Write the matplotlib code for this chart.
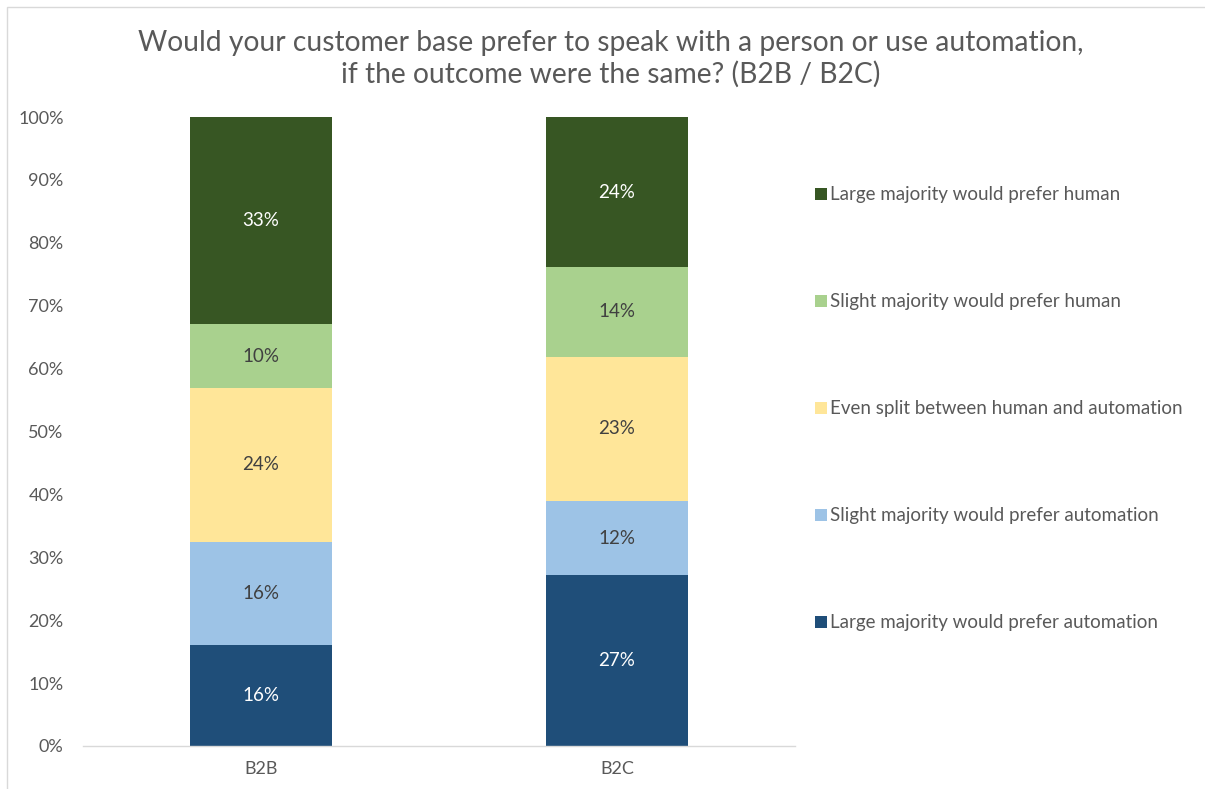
import numpy as np
import matplotlib.pyplot as plt
from matplotlib.patches import Patch, Rectangle

plt.rcParams['font.family'] = ['Lato', 'DejaVu Sans']

categories = ["B2B", "B2C"]
series_names = [
    "Large majority would prefer automation",
    "Slight majority would prefer automation",
    "Even split between human and automation",
    "Slight majority would prefer human",
    "Large majority would prefer human",
]
# share of respondents (%) per category, bottom segment first
b2b = [16.1, 16.4, 24.4, 10.2, 32.9]
b2c = [27.2, 11.7, 23.0, 14.2, 23.9]
colors = ["#1F4E79", "#9DC3E6", "#FFE699", "#A9D18E", "#375623"]
label_colors = ["white", "#404040", "#404040", "#404040", "white"]
ytick_vals = list(range(0, 101, 10))

TEXT = "#595959"

fig = plt.figure(figsize=(12.05, 7.89), dpi=100)
ax = fig.add_axes([83 / 1205, 1 - 746 / 789, (795 - 83) / 1205, (746 - 117) / 789])

data = np.array([b2b, b2c], dtype=float)
shares = data / data.sum(axis=1, keepdims=True) * 100
x = np.arange(len(categories))
bottom = np.zeros(len(categories))
for i, name in enumerate(series_names):
    ax.bar(x, shares[:, i], 0.40, bottom=bottom, color=colors[i], label=name)
    for j in range(len(categories)):
        ax.text(x[j], bottom[j] + shares[j, i] / 2, f"{data[j, i]:.0f}%",
                ha="center", va="center", fontsize=13.5, color=label_colors[i])
    bottom += shares[:, i]

ax.set_xlim(-0.5, 1.5)
ax.set_ylim(0, 100)
ax.set_yticks(ytick_vals)
ax.set_yticklabels([f"{v}%" for v in ytick_vals])
ax.set_xticks(x)
ax.set_xticklabels(categories)
ax.tick_params(axis="both", length=0, labelsize=13, colors=TEXT)
ax.tick_params(axis="y", pad=14)
ax.tick_params(axis="x", pad=11)
for side in ["top", "right", "left"]:
    ax.spines[side].set_visible(False)
ax.spines["bottom"].set_color("#D9D9D9")
ax.spines["bottom"].set_linewidth(1.0)

fig.text(0.5 * (140 + 1082) / 1205, 1 - 59 / 789,
         "Would your customer base prefer to speak with a person or use automation,\n"
         "if the outcome were the same? (B2B / B2C)",
         ha="center", va="center", fontsize=20.3, color=TEXT, linespacing=1.25)

handles = [Patch(facecolor=colors[i], label=series_names[i]) for i in range(5)][::-1]
fig.legend(handles=handles, loc="upper left", bbox_to_anchor=(806 / 1205, 1 - 177 / 789),
           frameon=False, fontsize=13.5, labelcolor=TEXT, handlelength=0.6,
           handleheight=0.6, handletextpad=0.2, labelspacing=4.8, borderpad=0)

fig.patches.append(Rectangle((7 / 1205, -0.1), 1.2, 1 - 7 / 789 + 0.1,
                             transform=fig.transFigure, fill=False,
                             edgecolor="#D9D9D9", linewidth=1.0))

fig.savefig("out.png", dpi=100)
